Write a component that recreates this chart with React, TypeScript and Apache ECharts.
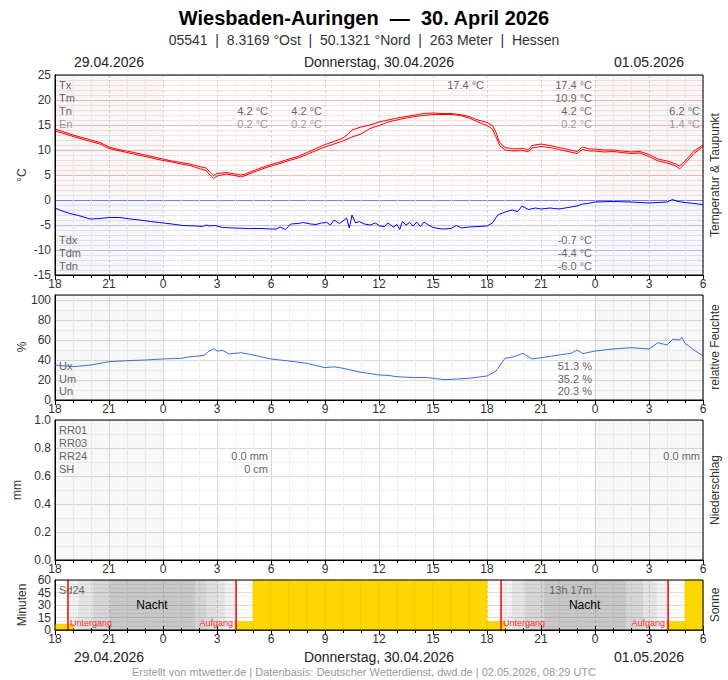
import { useEffect, useRef } from "react";
import * as echarts from "echarts";

// Zeitachse: Stunden seit 29.04.2026 18:00 UTC (0 ... 36)
const FONT = '"Liberation Sans", Arial, sans-serif';

const tempUpper: number[][] = [
  [0, 14.2], [0.5, 13.6], [1, 13.0], [1.5, 12.5], [2, 12.0], [2.5, 11.5], [3, 10.6], [3.5, 10.1],
  [4, 9.8], [4.5, 9.4], [5, 9.0], [5.5, 8.6], [6, 8.2], [6.5, 7.8], [7, 7.5], [7.5, 7.2], [8, 6.7],
  [8.4, 6.4], [8.6, 5.6], [8.8, 4.9], [9, 5.3], [9.5, 5.5], [10, 5.2], [10.3, 5.0], [10.5, 5.1],
  [11, 5.8], [11.5, 6.5], [12, 7.1], [12.5, 7.6], [13, 8.2], [13.5, 8.7], [14, 9.5], [14.5, 10.3],
  [15, 11.1], [15.5, 11.7], [16, 12.4], [16.3, 13.2], [16.5, 14.0], [17, 14.6], [17.5, 15.0],
  [18, 15.6], [18.5, 16.0], [19, 16.4], [19.5, 16.7], [20, 17.0], [20.5, 17.3], [21, 17.4],
  [21.5, 17.3], [22, 17.3], [22.5, 17.1], [23, 16.7], [23.5, 16.0], [24, 15.5], [24.3, 14.9],
  [24.5, 13.5], [24.7, 11.5], [25, 10.5], [25.5, 10.2], [26, 10.3], [26.3, 10.0], [26.5, 10.9],
  [27, 11.2], [27.5, 10.9], [28, 10.5], [28.5, 10.1], [29, 9.7], [29.3, 10.6], [29.7, 10.2],
  [30, 10.2], [30.5, 10.0], [31, 10.0], [31.5, 9.8], [32, 9.6], [32.5, 9.7], [33, 9.1], [33.5, 8.2],
  [34, 7.8], [34.5, 7.2], [34.7, 6.8], [35, 7.8], [35.5, 9.8], [36, 11.0],
];

const tempLower: number[][] = [
  [0, 13.8], [0.5, 13.3], [1, 12.7], [1.5, 12.2], [2, 11.7], [2.5, 11.2], [3, 10.3], [3.5, 9.9],
  [4, 9.5], [4.5, 9.1], [5, 8.7], [5.5, 8.3], [6, 7.9], [6.5, 7.6], [7, 7.2], [7.5, 6.9], [8, 6.3],
  [8.4, 5.9], [8.6, 5.0], [8.8, 4.3], [9, 4.8], [9.5, 5.2], [10, 4.9], [10.3, 4.6], [10.5, 4.8],
  [11, 5.5], [11.5, 6.2], [12, 6.8], [12.5, 7.3], [13, 7.9], [13.5, 8.4], [14, 9.1], [14.5, 9.9],
  [15, 10.6], [15.5, 11.2], [16, 11.8], [16.5, 12.6], [17, 13.2], [17.5, 14.3], [18, 14.9],
  [18.5, 15.6], [19, 16.0], [19.5, 16.4], [20, 16.7], [20.5, 16.9], [21, 17.1], [21.5, 17.1],
  [22, 17.1], [22.5, 16.9], [23, 16.4], [23.5, 15.6], [24, 14.9], [24.3, 14.2], [24.5, 12.6],
  [24.7, 10.9], [25, 10.0], [25.5, 9.8], [26, 9.9], [26.3, 9.6], [26.5, 10.4], [27, 10.7],
  [27.5, 10.5], [28, 10.1], [28.5, 9.7], [29, 9.3], [29.3, 10.1], [29.7, 9.8], [30, 9.8],
  [30.5, 9.6], [31, 9.7], [31.5, 9.5], [32, 9.3], [32.5, 9.4], [33, 8.7], [33.5, 7.8], [34, 7.4],
  [34.5, 6.8], [34.7, 6.2], [35, 7.3], [35.5, 9.3], [36, 10.7],
];

const dewPoint: number[][] = [
  [0, -1.6], [0.4, -2.2], [0.83, -2.7], [1.4, -3.2], [1.94, -3.8], [2.5, -3.7], [3.05, -3.5],
  [3.6, -3.5], [4.2, -3.8], [4.7, -4.0], [5.3, -4.3], [5.8, -4.5], [6.5, -4.8], [7.1, -5.1],
  [7.8, -5.2], [8.2, -5.3], [8.4, -5.0], [8.6, -5.2], [8.9, -5.1], [9.3, -5.5], [10, -5.6],
  [10.8, -5.7], [11.5, -5.7], [12.0, -5.8], [12.3, -5.8], [12.5, -5.4], [12.8, -5.9], [13.1, -4.8],
  [13.5, -4.7], [13.8, -4.5], [14.2, -4.8], [14.5, -4.9], [14.8, -4.6], [15.1, -4.5], [15.3, -5.0],
  [15.5, -4.0], [15.8, -4.7], [16.0, -4.2], [16.2, -3.6], [16.35, -5.6], [16.5, -3.0], [16.7, -4.6],
  [16.9, -4.3], [17.2, -4.8], [17.5, -5.0], [17.8, -4.6], [18.05, -5.2], [18.3, -5.3], [18.5, -4.6],
  [18.8, -5.4], [19.0, -4.9], [19.15, -5.9], [19.3, -4.3], [19.5, -5.0], [19.7, -4.5], [19.9, -5.2],
  [20.1, -4.4], [20.3, -5.3], [20.5, -4.4], [20.7, -4.9], [21.0, -5.5], [21.5, -5.8], [22.0, -5.7],
  [22.3, -5.1], [22.6, -5.6], [23, -5.4], [23.5, -5.3], [24, -5.2], [24.3, -4.6], [24.6, -3.0],
  [25, -2.4], [25.4, -2.0], [25.7, -2.3], [25.95, -1.2], [26.3, -1.9], [26.7, -1.6], [27, -1.8],
  [27.5, -1.6], [28, -1.8], [28.5, -1.5], [29, -1.2], [29.3, -0.8], [29.6, -0.7], [30, -0.4],
  [31, -0.3], [32, -0.4], [33, -0.6], [34, -0.4], [34.3, 0.1], [34.6, -0.3], [35, -0.5], [36, -0.9],
];

const humidity: number[][] = [
  [0, 35], [1, 33.3], [2, 35], [3, 38.3], [4, 39.3], [5, 40], [6, 41], [7, 41.7], [7.5, 43.3],
  [8, 44], [8.33, 45], [8.5, 48.3], [8.83, 51.3], [9, 49], [9.33, 49.5], [9.67, 46], [10, 46.7],
  [10.33, 47.3], [11, 45], [12, 41], [13, 39], [14, 36.7], [15, 32.3], [15.5, 33.2], [16, 31.7],
  [16.67, 29], [17, 27.7], [17.5, 26.5], [18, 25], [18.5, 24.6], [19, 23.3], [19.5, 22.8], [20, 22.3],
  [20.5, 22.6], [21, 21.7], [21.67, 20.3], [22, 20.7], [23, 21.7], [24, 24], [24.5, 29], [25, 41.7],
  [25.5, 43.3], [26, 46.7], [26.5, 41], [27, 42.3], [28, 45], [28.67, 46.7], [29, 50], [29.33, 46.3],
  [30, 49], [31, 51], [32, 52.3], [33, 51], [33.5, 57.3], [34, 55], [34.33, 61], [34.67, 60],
  [34.83, 62.7], [35, 56.7], [35.5, 50], [36, 44],
];

// Sonnenscheindauer je Stunde (Minuten), Stunde 0 = 18-19 UTC
const sunMinutes: number[] = [
  7, 0, 0, 0, 0, 0, 0, 0, 0, 0, 10, 60, 60, 60, 60, 60, 60, 60, 60, 60, 60, 60, 60, 60,
  10, 0, 0, 0, 0, 0, 0, 0, 0, 0, 10, 60,
];
const sunsets: number[] = [0.72, 24.78];
const sunrises: number[] = [10.06, 34.06];
// Dämmerungsstufen: [von, bis, Deckkraft]
const twilight: number[][] = [
  [0.72, 1.28, 0.05], [1.28, 2.11, 0.1], [2.11, 3.06, 0.16], [3.06, 7.78, 0.215],
  [7.78, 8.44, 0.16], [8.44, 9.06, 0.12], [9.06, 9.44, 0.1], [9.44, 10.06, 0.05],
  [24.78, 25.39, 0.05], [25.39, 26.11, 0.1], [26.11, 27.17, 0.16], [27.17, 31.72, 0.215],
  [31.72, 32.67, 0.16], [32.67, 33.44, 0.1], [33.44, 34.06, 0.05],
];
const offDays: number[][] = [[0, 6], [30, 36]];

const dayLabels: [string, number][] = [
  ["29.04.2026", 3],
  ["Donnerstag, 30.04.2026", 18],
  ["01.05.2026", 33],
];

const tempStats: [number, (string | null)[]][] = [
  [12, [null, null, "4.2 °C", "0.2 °C"]],
  [15, [null, null, "4.2 °C", "0.2 °C"]],
  [24, ["17.4 °C", null, null, null]],
  [30, ["17.4 °C", "10.9 °C", "4.2 °C", "0.2 °C"]],
  [36, [null, null, "6.2 °C", "1.4 °C"]],
];
const dewStats: [number, string[]][] = [[30, ["-0.7 °C", "-4.4 °C", "-6.0 °C"]]];
const humStats: [number, string[]][] = [[30, ["51.3 %", "35.2 %", "20.3 %"]]];
const precipStats: [number, (string | null)[]][] = [
  [12, [null, null, "0.0 mm", "0 cm"]],
  [36, [null, null, "0.0 mm", null]],
];
const sunStats: [number, string][] = [[30, "13h 17m"]];

const X0 = 55;
const HOUR_PX = 18;
const hourLabel = (v: number) => String((18 + v) % 24);

const txt = (x: number, y: number, text: string, o: any = {}) => ({
  type: "text",
  x,
  y,
  z: 100,
  silent: true,
  rotation: o.rotation || 0,
  style: {
    text,
    fill: o.color || "#666",
    font: `${o.weight || "normal"} ${o.size || 11}px ${FONT}`,
    align: o.align || "left",
    verticalAlign: "middle",
    textAlign: o.align || "left",
    textVerticalAlign: "middle",
  },
});

const statX = (h: number) => X0 + h * HOUR_PX - 3;

const xAxisFor = (gridIndex: number, extra: any = {}) => ({
  type: "value",
  gridIndex,
  min: 0,
  max: 36,
  interval: 3,
  axisLine: { show: true, onZero: false, lineStyle: { color: "#000" } },
  axisTick: { show: true, length: 5, lineStyle: { color: "#000" } },
  minorTick: { show: true, splitNumber: 3, length: 3, lineStyle: { color: "#000" } },
  axisLabel: { margin: 3, color: "#333", fontSize: 12, fontFamily: FONT, formatter: hourLabel },
  splitLine: { show: true, lineStyle: { color: "#d4d4d4", type: [3, 2] } },
  minorSplitLine: { show: true, lineStyle: { color: "#efefef" } },
  ...extra,
});

const yAxisFor = (gridIndex: number, min: number, max: number, interval: number, extra: any = {}) => ({
  type: "value",
  gridIndex,
  min,
  max,
  interval,
  axisLine: { show: true, onZero: false, lineStyle: { color: "#000" } },
  axisTick: { show: false },
  axisLabel: { margin: 4, color: "#333", fontSize: 12, fontFamily: FONT },
  splitLine: { show: true, lineStyle: { color: "#dadada" } },
  minorTick: { show: false, splitNumber: 2 },
  minorSplitLine: { show: true, lineStyle: { color: "#f0f0f0" } },
  ...extra,
});

const shadeSeries = (axis: number, yMin: number, yMax: number) => ({
  type: "custom",
  xAxisIndex: axis,
  yAxisIndex: axis,
  data: offDays,
  silent: true,
  z: 1,
  renderItem: (_p: any, api: any) => {
    const a = api.coord([api.value(0), yMax]);
    const b = api.coord([api.value(1), yMin]);
    return {
      type: "rect",
      shape: { x: a[0], y: a[1], width: b[0] - a[0], height: b[1] - a[1] },
      style: { fill: "rgba(0,0,0,0.03)" },
    };
  },
});

const App = () => {
  const ref = useRef<HTMLDivElement | null>(null);

  useEffect(() => {
    if (!ref.current) return;
    const chart = echarts.init(ref.current, undefined, { renderer: "svg" });

    const graphic: any[] = [
      txt(364, 18, "Wiesbaden-Auringen  —  30. April 2026", { size: 20, weight: "bold", color: "#000", align: "center" }),
      txt(364, 40, "05541  |  8.3169 °Ost  |  50.1321 °Nord  |  263 Meter  |  Hessen", { size: 14, color: "#333", align: "center" }),
      txt(364, 672, "Erstellt von mtwetter.de | Datenbasis: Deutscher Wetterdienst, dwd.de | 02.05.2026, 08:29 UTC", { size: 11, color: "#999", align: "center" }),
    ];
    dayLabels.forEach(([t, h]) => {
      graphic.push(txt(X0 + h * HOUR_PX, 62, t, { size: 14, color: "#222", align: "center" }));
      graphic.push(txt(X0 + h * HOUR_PX, 657, t, { size: 14, color: "#222", align: "center" }));
    });
    const rot = Math.PI / 2;
    [["°C", 22, 175], ["%", 22, 347], ["mm", 17, 490], ["Minuten", 22, 605]].forEach(([t, x, y]) =>
      graphic.push(txt(x as number, y as number, t as string, { size: 12, color: "#333", align: "center", rotation: rot }))
    );
    [["Temperatur & Taupunkt", 175], ["relative Feuchte", 347], ["Niederschlag", 490], ["Sonne", 605]].forEach(([t, y]) =>
      graphic.push(txt(715, y as number, t as string, { size: 12, color: "#333", align: "center", rotation: rot }))
    );

    const tempRows = [85, 98, 111, 124];
    ["Tx", "Tm", "Tn", "En"].forEach((t, i) => graphic.push(txt(59, tempRows[i], t, { color: i === 3 ? "#999" : "#666" })));
    tempStats.forEach(([h, rows]) =>
      rows.forEach((t, i) => t && graphic.push(txt(statX(h), tempRows[i], t, { align: "right", color: i === 3 ? "#999" : "#666" })))
    );
    const dewRows = [240, 253, 266];
    ["Tdx", "Tdm", "Tdn"].forEach((t, i) => graphic.push(txt(59, dewRows[i], t)));
    dewStats.forEach(([h, rows]) => rows.forEach((t, i) => graphic.push(txt(statX(h), dewRows[i], t, { align: "right" }))));

    const humRows = [366, 378.5, 391];
    ["Ux", "Um", "Un"].forEach((t, i) => graphic.push(txt(59, humRows[i], t)));
    humStats.forEach(([h, rows]) => rows.forEach((t, i) => graphic.push(txt(statX(h), humRows[i], t, { align: "right" }))));

    const rrRows = [430, 443, 456, 469];
    ["RR01", "RR03", "RR24", "SH"].forEach((t, i) => graphic.push(txt(59, rrRows[i], t)));
    precipStats.forEach(([h, rows]) =>
      rows.forEach((t, i) => t && graphic.push(txt(statX(h), rrRows[i], t, { align: "right" })))
    );

    graphic.push(txt(59, 590, "Sd24"));
    sunStats.forEach(([h, t]) => graphic.push(txt(statX(h), 590, t, { align: "right" })));

    const nights = sunsets.map((s, i) => [s, sunrises[i]]);
    const events = [...sunsets.map((h) => [h, 0]), ...sunrises.map((h) => [h, 1])];

    const option: any = {
      animation: false,
      backgroundColor: "#fff",
      textStyle: { fontFamily: FONT },
      graphic,
      grid: [
        { left: 55, top: 75, width: 648, height: 200, show: true, borderColor: "#000", borderWidth: 1, z: 10 },
        { left: 55, top: 295, width: 648, height: 105, show: true, borderColor: "#000", borderWidth: 1, z: 10 },
        { left: 55, top: 420, width: 648, height: 140, show: true, borderColor: "#000", borderWidth: 1, z: 10 },
        { left: 55, top: 580, width: 648, height: 50, show: true, borderColor: "#000", borderWidth: 1, z: 10 },
        { left: 55, top: 75, width: 648, height: 125, show: false },
        { left: 55, top: 200, width: 648, height: 75, show: false },
      ],
      xAxis: [
        xAxisFor(0),
        xAxisFor(1, { splitLine: { show: true, lineStyle: { color: "#dadada" } } }),
        xAxisFor(2, { splitLine: { show: true, lineStyle: { color: "#dadada" } } }),
        xAxisFor(3),
        {
          type: "value", gridIndex: 3, position: "top", min: 0, max: 36, interval: 3,
          axisLine: { show: false },
          axisTick: { show: true, length: 4, lineStyle: { color: "#000" } },
          minorTick: { show: true, splitNumber: 3, length: 2, lineStyle: { color: "#000" } },
          axisLabel: { show: false },
          splitLine: { show: false },
        },
        { type: "value", gridIndex: 4, min: 0, max: 36, show: false },
        { type: "value", gridIndex: 5, min: 0, max: 36, show: false },
      ],
      yAxis: [
        yAxisFor(0, -15, 25, 5, {
          splitLine: {
            show: true,
            lineStyle: {
              color: ["#c4c4ff", "#bcbcff", "#bcbcff", "#7c7cff", "#f6b8b8", "#f6b8b8", "#f6b8b8", "#f6b8b8", "#f6b8b8"],
            },
          },
          minorSplitLine: { show: false },
        }),
        yAxisFor(1, 0, 105, 20, { axisLabel: { margin: 4, color: "#333", fontSize: 12, fontFamily: FONT, showMaxLabel: false } }),
        yAxisFor(2, 0, 1, 0.2, {
          axisLabel: { margin: 4, color: "#333", fontSize: 12, fontFamily: FONT, formatter: (v: number) => v.toFixed(1) },
        }),
        yAxisFor(3, 0, 60, 15, { minorTick: { show: false, splitNumber: 3 } }),
        {
          type: "value", gridIndex: 4, min: 0, max: 25, interval: 5,
          axisLine: { show: false }, axisTick: { show: false }, axisLabel: { show: false }, splitLine: { show: false },
          minorTick: { show: false, splitNumber: 5 },
          minorSplitLine: { show: true, lineStyle: { color: "#fbe1e1" } },
        },
        {
          type: "value", gridIndex: 5, min: -15, max: 0, interval: 5,
          axisLine: { show: false }, axisTick: { show: false }, axisLabel: { show: false }, splitLine: { show: false },
          minorTick: { show: false, splitNumber: 5 },
          minorSplitLine: { show: true, lineStyle: { color: "#e4e4ff" } },
        },
      ],
      series: [
        shadeSeries(0, -15, 25),
        shadeSeries(1, 0, 105),
        shadeSeries(2, 0, 1),
        {
          name: "T oben", type: "line", xAxisIndex: 0, yAxisIndex: 0, data: tempUpper, showSymbol: false,
          lineStyle: { color: "#ff0000", width: 1 }, z: 3,
        },
        {
          name: "T unten", type: "line", xAxisIndex: 0, yAxisIndex: 0, data: tempLower, showSymbol: false,
          lineStyle: { color: "#ff0000", width: 1 }, z: 3,
        },
        {
          name: "Taupunkt", type: "line", xAxisIndex: 0, yAxisIndex: 0, data: dewPoint, showSymbol: false,
          lineStyle: { color: "#0000ff", width: 1 }, z: 3,
        },
        {
          name: "Feuchte", type: "line", xAxisIndex: 1, yAxisIndex: 1, data: humidity, showSymbol: false,
          lineStyle: { color: "#4169e1", width: 1 }, z: 3,
        },
        {
          name: "Dämmerung", type: "custom", xAxisIndex: 3, yAxisIndex: 3, data: twilight, silent: true, z: 1,
          renderItem: (_p: any, api: any) => {
            const a = api.coord([api.value(0), 60]);
            const b = api.coord([api.value(1), 0]);
            return {
              type: "rect",
              shape: { x: a[0], y: a[1], width: b[0] - a[0], height: b[1] - a[1] },
              style: { fill: `rgba(0,0,0,${api.value(2)})` },
            };
          },
        },
        {
          name: "Sonne", type: "custom", xAxisIndex: 3, yAxisIndex: 3, silent: true, z: 2,
          data: sunMinutes.map((v, i) => [i, v]),
          renderItem: (_p: any, api: any) => {
            const v = api.value(1);
            if (!v) return null;
            const a = api.coord([api.value(0), v]);
            const b = api.coord([api.value(0) + 1, 0]);
            return {
              type: "rect",
              shape: { x: a[0], y: a[1], width: b[0] - a[0], height: b[1] - a[1] },
              style: { fill: "#ffd700", stroke: "#f1c800", lineWidth: 0.8 },
            };
          },
        },
        {
          name: "Nacht", type: "custom", xAxisIndex: 3, yAxisIndex: 3, silent: true, z: 4, data: nights,
          renderItem: (_p: any, api: any) => {
            const c = api.coord([(api.value(0) + api.value(1)) / 2, 30]);
            return {
              type: "text",
              x: c[0],
              y: c[1],
              style: {
                text: "Nacht", fill: "#000", font: `12px ${FONT}`,
                align: "center", verticalAlign: "middle", textAlign: "center", textVerticalAlign: "middle",
              },
            };
          },
        },
        {
          name: "Auf/Untergang", type: "custom", xAxisIndex: 3, yAxisIndex: 3, silent: true, z: 5, data: events,
          renderItem: (_p: any, api: any) => {
            const h = api.value(0);
            const isSet = api.value(1) === 0;
            const top = api.coord([h, 60]);
            const bot = api.coord([h, 0]);
            return {
              type: "group",
              children: [
                {
                  type: "line",
                  shape: { x1: top[0], y1: top[1], x2: bot[0], y2: bot[1] },
                  style: { stroke: "#ff0000", lineWidth: 1.5 },
                },
                {
                  type: "text",
                  x: isSet ? bot[0] + 2 : bot[0] - 3,
                  y: bot[1] - 7,
                  style: {
                    text: isSet ? "Untergang" : "Aufgang", fill: "#ee3030", font: `9px ${FONT}`,
                    align: isSet ? "left" : "right", verticalAlign: "middle",
                    textAlign: isSet ? "left" : "right", textVerticalAlign: "middle",
                  },
                },
              ],
            };
          },
        },
      ],
    };

    chart.setOption(option);
    return () => {
      chart.dispose();
    };
  }, []);

  return (
    <div
      ref={ref}
      style={{ position: "fixed", left: 0, top: 0, width: 728, height: 680, background: "#fff" }}
    />
  );
};

export default App;
